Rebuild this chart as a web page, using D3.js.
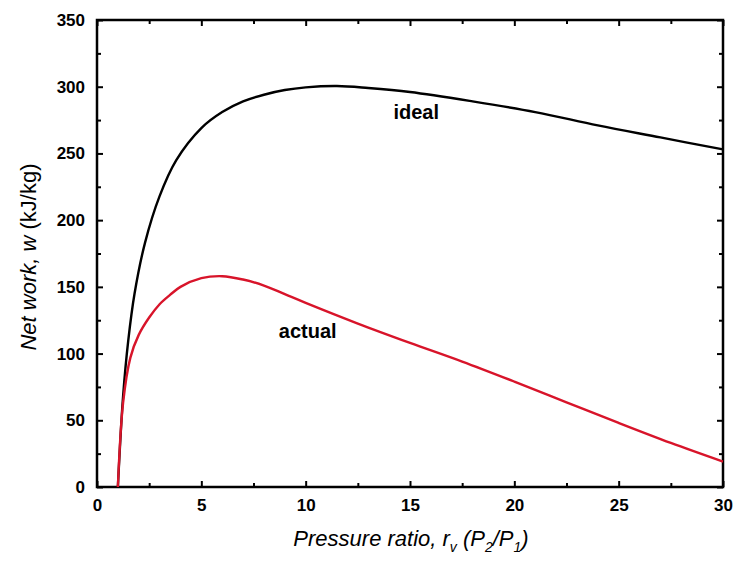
<!DOCTYPE html>
<html>
<head>
<meta charset="utf-8">
<script src="https://cdn.jsdelivr.net/npm/d3@7"></script>
<style>
  body { margin: 0; background: #fff; }
  svg { display: block; font-family: 'Liberation Sans', Arial, sans-serif; }
  .axis path { display: none; }
  .axis line { stroke: #000; stroke-width: 2; }
  .axis text { font-size: 17px; font-weight: bold; fill: #000; }
</style>
</head>
<body>
<svg id="chart"></svg>
<script>
const colours = {
  ideal: '#000000',
  actual: '#d8142a',
  frame: '#000000',
};

// values
const idealRatio = [1, 1.25, 1.5, 1.8, 2.3, 3, 3.8, 5, 6, 7, 8, 9, 10, 11.5, 13, 15, 18, 21, 24, 27, 30];
const idealWork = [0, 68, 110, 145, 183, 218, 245, 269, 281, 289, 294, 297.5, 299.5, 300.5, 299, 296, 289, 281, 271, 262, 253];

const actualRatio = [1, 1.25, 1.6, 2, 2.5, 3, 3.5, 4, 5, 6, 7, 8, 9, 10, 12.5, 15, 17.5, 20, 22.5, 25, 27.5, 30];
const actualWork = [0, 63, 97, 114, 127, 137, 144, 150, 156.5, 158, 155.5, 151, 144.5, 138, 122.5, 108, 94, 79, 63.5, 48, 33, 19];

const xMajorTicks = [0, 5, 10, 15, 20, 25, 30];
const xMinorTicks = [2.5, 7.5, 12.5, 17.5, 22.5, 27.5];
const yMajorTicks = [0, 50, 100, 150, 200, 250, 300, 350];
const yMinorTicks = [25, 75, 125, 175, 225, 275, 325];

const width = 736;
const height = 561;
const margin = { top: 20, right: 13, bottom: 74, left: 97 };

const sel = d3.select('#chart').attr('width', width).attr('height', height);

const xScale = d3
  .scaleLinear()
  .domain([0, 30])
  .range([margin.left, width - margin.right]);
const yScale = d3
  .scaleLinear()
  .domain([0, 350])
  .range([height - margin.bottom, margin.top]);

// axes, ticks point inward on all four sides
function addAxis(axis, transform) {
  sel.append('g').attr('class', 'axis').attr('transform', transform).call(axis);
}
const bottomY = yScale(0);
const topY = yScale(350);
const leftX = xScale(0);
const rightX = xScale(30);

addAxis(d3.axisBottom(xScale).tickValues(xMajorTicks).tickSize(-6).tickPadding(12), `translate(0,${bottomY})`);
addAxis(d3.axisBottom(xScale).tickValues(xMinorTicks).tickSize(-4).tickFormat(''), `translate(0,${bottomY})`);
addAxis(d3.axisTop(xScale).tickValues(xMajorTicks).tickSize(-6).tickFormat(''), `translate(0,${topY})`);
addAxis(d3.axisTop(xScale).tickValues(xMinorTicks).tickSize(-4).tickFormat(''), `translate(0,${topY})`);
addAxis(d3.axisLeft(yScale).tickValues(yMajorTicks).tickSize(-6).tickPadding(12), `translate(${leftX},0)`);
addAxis(d3.axisLeft(yScale).tickValues(yMinorTicks).tickSize(-4).tickFormat(''), `translate(${leftX},0)`);
addAxis(d3.axisRight(yScale).tickValues(yMajorTicks).tickSize(-6).tickFormat(''), `translate(${rightX},0)`);
addAxis(d3.axisRight(yScale).tickValues(yMinorTicks).tickSize(-4).tickFormat(''), `translate(${rightX},0)`);

// frame
sel
  .append('rect')
  .attr('x', leftX)
  .attr('y', topY)
  .attr('width', rightX - leftX)
  .attr('height', bottomY - topY)
  .attr('fill', 'none')
  .attr('stroke', colours.frame)
  .attr('stroke-width', 2.5);

// curves
const line = d3
  .line()
  .x(d => xScale(d[0]))
  .y(d => yScale(d[1]))
  .curve(d3.curveCatmullRom.alpha(0.5));

const series = [
  { key: 'ideal', points: d3.zip(idealRatio, idealWork) },
  { key: 'actual', points: d3.zip(actualRatio, actualWork) },
];
sel
  .selectAll('.curve')
  .data(series)
  .enter()
  .append('path')
  .classed('curve', true)
  .attr('d', d => line(d.points))
  .attr('fill', 'none')
  .attr('stroke', d => colours[d.key])
  .attr('stroke-width', 2.4);

// curve labels
sel
  .append('text')
  .attr('x', xScale(15.3))
  .attr('y', yScale(276))
  .attr('text-anchor', 'middle')
  .attr('font-size', 20)
  .attr('font-weight', 'bold')
  .text('ideal');
sel
  .append('text')
  .attr('x', xScale(10.1))
  .attr('y', yScale(112))
  .attr('text-anchor', 'middle')
  .attr('font-size', 20)
  .attr('font-weight', 'bold')
  .text('actual');

// axis titles
const xTitle = sel
  .append('text')
  .attr('x', 411)
  .attr('y', 546)
  .attr('text-anchor', 'middle')
  .attr('font-size', 22)
  .attr('font-style', 'italic');
xTitle.append('tspan').text('Pressure ratio, r');
xTitle.append('tspan').attr('font-size', 14).attr('dy', 6).text('v');
xTitle.append('tspan').attr('dy', -6).text(' (P');
xTitle.append('tspan').attr('font-size', 14).attr('dy', 6).text('2');
xTitle.append('tspan').attr('dy', -6).text('/P');
xTitle.append('tspan').attr('font-size', 14).attr('dy', 6).text('1');
xTitle.append('tspan').attr('dy', -6).text(')');

const yTitle = sel
  .append('text')
  .attr('transform', `translate(36,257) rotate(-90)`)
  .attr('text-anchor', 'middle')
  .attr('font-size', 22);
yTitle.append('tspan').attr('font-style', 'italic').text('Net work, w');
yTitle.append('tspan').text(' (kJ/kg)');
</script>
</body>
</html>
